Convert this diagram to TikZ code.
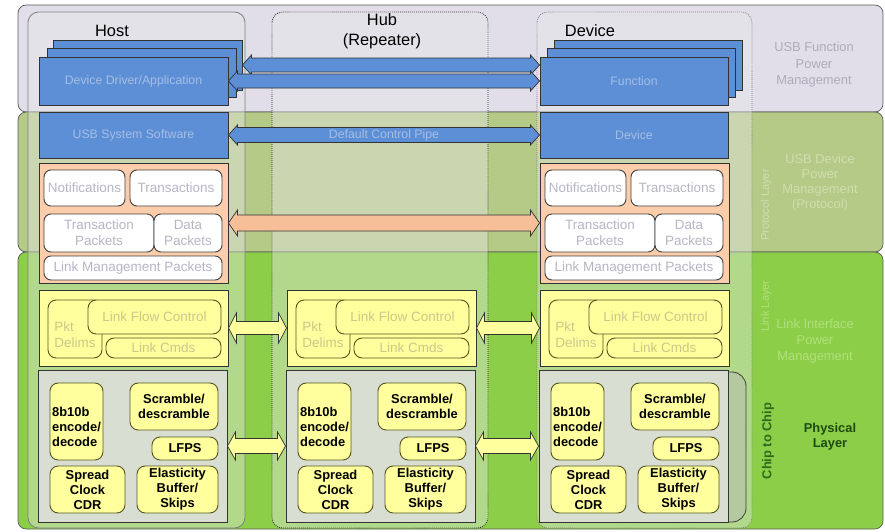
\documentclass[tikz,border=0pt]{standalone}
\usepackage{fontspec}
\setmainfont{Liberation Sans}

\definecolor{toplav}{HTML}{E1DEE9}
\definecolor{midolive}{HTML}{B5CA87}
\definecolor{lowgreen}{HTML}{8CCE48}
\definecolor{usbblue}{HTML}{5C8FD6}
\definecolor{bluetext}{HTML}{A6BEE4}
\definecolor{usbpeach}{HTML}{FBCDAA}
\definecolor{peacharrow}{HTML}{F7BF98}
\definecolor{prottext}{HTML}{B6B6C6}
\definecolor{usbyellow}{HTML}{FFFF9E}
\definecolor{linktext}{HTML}{C9C98A}
\definecolor{phygray}{HTML}{D9DED3}
\definecolor{olivedark}{HTML}{55551F}
\definecolor{toptext}{HTML}{B0AABB}
\definecolor{midtext}{HTML}{D2DDB0}
\definecolor{lowtext}{HTML}{B2E07E}
\definecolor{chipgreen}{HTML}{2E6B1E}
\definecolor{phytext}{HTML}{1F4A12}
\definecolor{bracketgreen}{HTML}{B5C9A0}

\begin{document}
\begin{tikzpicture}[x=0.03cm, y=-0.03cm,
    rect/.style n args={4}{at={({((#1)+(#3))/2},{((#2)+(#4))/2})},
        minimum width={((#3)-(#1))*0.03cm}, minimum height={((#4)-(#2))*0.03cm}},
    band/.style={draw=black!65, line width=0.6pt, rounded corners=7pt},
    column/.style={draw=black!50, line width=0.7pt, rounded corners=9pt, fill=gray!18, fill opacity=0.42},
    chipbox/.style={draw=black!75, line width=0.7pt, fill=bracketgreen, rounded corners=12pt},
    boxbase/.style={inner sep=0pt, align=center, line width=0.8pt},
    bluebox/.style={boxbase, draw=black!80, fill=usbblue, text=bluetext, font=\fontsize{10.5}{12}\selectfont},
    protbox/.style={boxbase, draw=black!80, fill=usbpeach},
    protin/.style={boxbase, draw=black!75, fill=white, rounded corners=6pt, text=prottext, font=\fontsize{11.5}{13.6}\selectfont},
    linkbox/.style={boxbase, draw=black!80, fill=usbyellow},
    linkin/.style={boxbase, draw=olivedark, fill=usbyellow, rounded corners=7pt, text=linktext, font=\fontsize{11.5}{13.6}\selectfont},
    phybox/.style={boxbase, draw=black!80, fill=phygray},
    phyin/.style={boxbase, draw=olivedark, fill=usbyellow, rounded corners=7pt, font=\bfseries\fontsize{11}{12.8}\selectfont},
    title/.style={font=\fontsize{14}{17}\selectfont, align=center},
    side/.style={font=\fontsize{11}{14}\selectfont, align=center},
    vert/.style={font=\fontsize{9.5}{11}\selectfont, rotate=90},
    blockarrow/.style n args={3}{draw=black!80, line width=0.6pt,
        to path={(\tikztostart) -- ([shift={(#3,#2)}]\tikztostart) -- ([shift={(#3,#1)}]\tikztostart)
            -- ([shift={(-#3,#1)}]\tikztotarget) -- ([shift={(-#3,#2)}]\tikztotarget) -- (\tikztotarget)
            -- ([shift={(-#3,-#2)}]\tikztotarget) -- ([shift={(-#3,-#1)}]\tikztotarget)
            -- ([shift={(#3,-#1)}]\tikztostart) -- ([shift={(#3,-#2)}]\tikztostart) -- cycle}},
]
    \useasboundingbox (0,0) rectangle (885,532);

    % layer bands
    \draw[band, fill=toplav] (18,5) rectangle (883,112);
    \draw[band, fill=midolive] (18,112) rectangle (883,252);
    \draw[band, fill=lowgreen] (18,252) rectangle (883,529);

    % host, hub and device columns
    \draw[column] (28,12) rectangle (245,528);
    \draw[column, draw=black!80, densely dotted] (272,12) rectangle (488,528);
    \draw[column, densely dotted] (537,12) rectangle (752,528);
    \draw[chipbox] (600,372) rectangle (746,522);

    % software stacks
    \node[bluebox, rect={53}{40}{242}{90}] (drvh3) {};
    \node[bluebox, rect={47}{48}{236}{97}] (drvh2) {};
    \node[bluebox, rect={39}{57}{228}{105}] (drvh1) {Device Driver/Application};
    \node[bluebox, rect={39}{112}{228}{158}] (ssh) {USB System Software};
    \node[bluebox, rect={554}{40}{742}{90}] (drvd3) {};
    \node[bluebox, rect={547}{48}{735}{97}] (drvd2) {};
    \node[bluebox, rect={540}{57}{728}{105}] (drvd1) {Function};
    \node[bluebox, rect={540}{112}{728}{158}] (ssd) {Device};

    % protocol layer
    \foreach \c/\x in {h/39, d/540} {
        \node[protbox, rect={\x}{163}{\x+189}{283}] (prot\c) {};
        \node[protin, rect={\x+5}{170}{\x+86}{206}] (ntf\c) {Notifications};
        \node[protin, rect={\x+91}{170}{\x+183}{206}] (trn\c) {Transactions};
        \node[protin, rect={\x+5}{214}{\x+115}{252}] (tpk\c) {Transaction\\Packets};
        \node[protin, rect={\x+115}{214}{\x+183}{252}] (dpk\c) {Data\\Packets};
        \node[protin, rect={\x+5}{256}{\x+183}{280}] (lmp\c) {Link Management Packets};
    }

    % link and physical layers
    \foreach \c/\x in {h/39, u/287, d/540} {
        \node[linkbox, rect={\x}{290}{\x+189}{366}] (lnk\c) {};
        \node[linkin, rect={\x+9}{300}{\x+63}{358},
            label={[align=left, text=linktext, font=\fontsize{11.5}{13.6}\selectfont, yshift=-4.5pt]center:Pkt\\Delims}] (pkt\c) {};
        \node[linkin, rect={\x+49}{300}{\x+182}{334}] (lfc\c) {Link Flow Control};
        \node[linkin, rect={\x+67}{338}{\x+182}{358}] (cmd\c) {Link Cmds};
        \node[phybox, rect={\x-1}{370}{\x+188}{522}] (phy\c) {};
        \node[phyin, rect={\x+11}{383}{\x+64}{460},
            label={[align=left, font=\bfseries\fontsize{11}{12.8}\selectfont, yshift=-5pt]center:8b10b\\encode/\\decode}] (enc\c) {};
        \node[phyin, rect={\x+91}{383}{\x+179}{430}] (scr\c) {Scramble/\\descramble};
        \node[phyin, rect={\x+113}{437}{\x+179}{460}] (lfps\c) {LFPS};
        \node[phyin, rect={\x+11}{466}{\x+86}{513}] (clk\c) {Spread\\Clock\\CDR};
        \node[phyin, rect={\x+98}{466}{\x+179}{513}] (ebuf\c) {Elasticity\\Buffer/\\Skips};
    }

    % pipes between the stacks
    \coordinate (fnd) at (drvd1.west |- drvh3.east);
    \draw[blockarrow={7}{10}{9}, fill=usbblue] (drvh3.east) to (fnd);
    \draw[blockarrow={7}{10}{9}, fill=usbblue] (drvh1.east) to (drvd1.west);
    \draw[blockarrow={7.5}{10}{9}, fill=usbblue] (ssh.east) to (ssd.west);
    \draw[blockarrow={8}{13}{9}, fill=peacharrow] (proth.east) to (protd.west);
    \draw[blockarrow={6.5}{15}{8}, fill=usbyellow] (lnkh.east) to (lnku.west);
    \draw[blockarrow={6.5}{15}{8}, fill=usbyellow] (lnku.east) to (lnkd.west);
    \draw[blockarrow={7.5}{14}{8}, fill=usbyellow] (phyh.east) to (phyu.west);
    \draw[blockarrow={7.5}{14}{8}, fill=usbyellow] (phyu.east) to (phyd.west);
    \node[text=bluetext, font=\fontsize{10.5}{12}\selectfont] (pipe) at (384,135) {Default Control Pipe};

    % titles
    \node[title] (hostlbl) at (112,31) {Host};
    \node[title] (hublbl) at (382,31) {Hub\\(Repeater)};
    \node[title] (devlbl) at (590,31) {Device};

    % power management side
    \node[side, text=toptext] (fpm) at (814,65) {USB Function\\Power\\Management};
    \node[side, text=midtext, font=\fontsize{11}{12.8}\selectfont] (dpm) at (820,183) {USB Device\\Power\\Management\\(Protocol)};
    \node[side, text=lowtext, font=\fontsize{11}{13.6}\selectfont] (lpm) at (815,341) {Link Interface\\Power\\Management};
    \node[vert, text=midtext] (protv) at (766,205) {Protocol Layer};
    \node[vert, text=lowtext] (linkv) at (766,306) {Link Layer};
    \node[rotate=90, text=chipgreen, font=\bfseries\fontsize{11}{13}\selectfont] (chip) at (768,441) {Chip to Chip};
    \node[align=center, text=phytext, font=\bfseries\fontsize{11}{13}\selectfont] (phylbl) at (830,437) {Physical\\Layer};
\end{tikzpicture}
\end{document}
